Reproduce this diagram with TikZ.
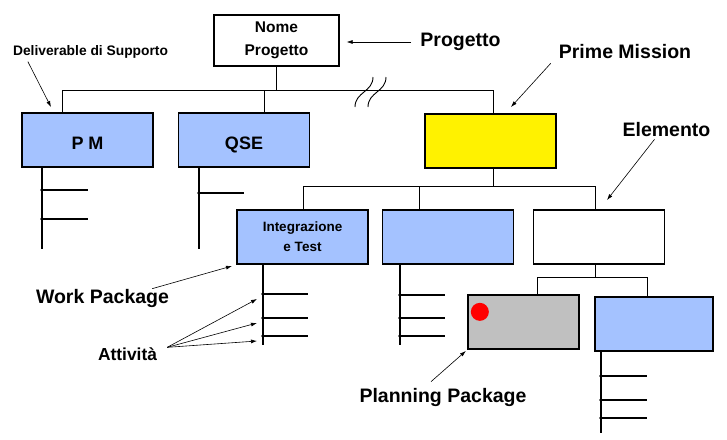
\documentclass[tikz,border=0pt]{standalone}
\usepackage{fontspec}
\setmainfont{Liberation Sans}
\usetikzlibrary{arrows.meta,positioning}
\definecolor{wbsblu}{RGB}{164,194,255}
\definecolor{wbsgrigio}{RGB}{192,192,192}

\begin{document}
\begin{tikzpicture}[x=1pt,y=-1pt,
  box/.style={draw,line width=1.3pt,minimum width=131pt,minimum height=54pt,inner sep=0pt,align=center,font=\bfseries\fontsize{18}{20}\selectfont},
  wp/.style={box,fill=wbsblu},
  wpriga/.style={wp,text height=19pt,text depth=0pt},
  lbl/.style={inner sep=0pt,font=\bfseries\fontsize{19.5}{22}\selectfont},
  conn/.style={line width=0.9pt},
  scala/.style={line width=1.8pt},
  freccia/.style={line width=0.6pt,-{Latex[length=6pt,width=4pt]}}]
  \useasboundingbox (0,0) rectangle (727,439);

  % boxes
  \node[box,minimum width=125pt,minimum height=51pt,font=\bfseries\fontsize{15.5}{23}\selectfont] (nome) at (276.5,40.5) {Nome\\Progetto};
  \node[wpriga] (pm) at (87.5,140) {P M};
  \node[wpriga] (qse) at (244,140) {QSE};
  \node[box,fill=yellow,line width=2.2pt] (prime) at (490.5,141) {};
  \node[wp,font=\bfseries\fontsize{13.5}{20}\selectfont] (integ) at (302.5,237) {Integrazione\\e Test};
  \node[wp,right=13pt of integ] (wp2) {};
  \node[box,right=19pt of wp2] (elem) {};
  \node[box,fill=wbsgrigio,minimum width=111pt] (pp) at (523.5,322) {};
  \node[wp,minimum width=118pt] (wp4) at (654,324) {};
  \fill[red] (pp.north west) ++(12.5,17.5) circle (9pt);

  % tree
  \coordinate (b1) at (62,90);
  \coordinate (b2) at (493,90);
  \coordinate (b3) at (264,90);
  \draw[conn] (nome) -- (nome |- b1);
  \draw[conn] (pm.north -| b1) -- (b1) -- (b2) -- (prime.north -| b2);
  \draw[conn] (b3) -- (b3 |- qse.north);
  \draw[conn] (355,107) .. controls (355,92) and (373,92) .. (373,77);
  \draw[conn] (368,107) .. controls (368,92) and (386,92) .. (386,77);

  \coordinate (c1) at (303,186);
  \coordinate (c2) at (595,186);
  \coordinate (c3) at (419,186);
  \draw[conn] (prime.south -| b2) -- (b2 |- c1);
  \draw[conn] (integ.north -| c1) -- (c1) -- (c2) -- (elem.north -| c2);
  \draw[conn] (c3) -- (c3 |- wp2.north);

  \coordinate (d1) at (537,277);
  \coordinate (d2) at (647,277);
  \draw[conn] (elem.south -| c2) -- (c2 |- d1);
  \draw[conn] (pp.north -| d1) -- (d1) -- (d2) -- (wp4.north -| d2);

  % activities
  \draw[scala] (42,167) -- (42,249);
  \foreach \y in {190,219} {
    \draw[scala] (42,\y) -- ++(46,0);
    \fill (42,\y) circle (1.8pt);
  }
  \draw[scala] (199,167) -- (199,249);
  \draw[scala] (199,193) -- ++(45,0);
  \fill (199,193) circle (1.8pt);
  \draw[scala] (263,264) -- (263,345);
  \foreach \y in {294,318,336} {
    \draw[scala] (263,\y) -- ++(45,0);
    \fill (263,\y) circle (1.8pt);
  }
  \draw[scala] (400,264) -- (400,345);
  \foreach \y in {295,318,336} {
    \draw[scala] (400,\y) -- ++(45,0);
    \fill (400,\y) circle (1.8pt);
  }
  \draw[scala] (601,351) -- (601,433);
  \foreach \y in {376,400,418} {
    \draw[scala] (601,\y) -- ++(46,0);
    \fill (601,\y) circle (1.8pt);
  }

  % labels
  \node[lbl,font=\bfseries\fontsize{13.8}{16}\selectfont] (deliv) at (90.5,52) {Deliverable di Supporto};
  \node[lbl] (lprog) at (460.5,42) {Progetto};
  \node[lbl] (lprime) at (625,52) {Prime Mission};
  \node[lbl] (lelem) at (666.5,130) {Elemento};
  \node[lbl] (lwp) at (102.5,298) {Work Package};
  \node[lbl,font=\bfseries\fontsize{17.4}{20}\selectfont] (latt) at (127.5,354) {Attività};
  \node[lbl] (lpp) at (443,397) {Planning Package};

  \coordinate (tdeliv) at (51,107);
  \coordinate (tprime) at (511,107);
  \coordinate (telem) at (607,200);
  \coordinate (twp) at (232,266);
  \draw[freccia,shorten <=9pt,shorten >=7pt] (lprog.west) -- (lprog.west -| nome.east);
  \draw[freccia] ([xshift=15pt,yshift=-3pt]deliv.south west) -- (tdeliv);
  \draw[freccia] ([xshift=-8pt,yshift=-4pt]lprime.south west) -- (tprime);
  \draw[freccia] ([xshift=-12pt,yshift=-2pt]lelem.south) -- (telem);
  \draw[freccia] ([xshift=-17pt]lwp.north east) -- (twp);
  \foreach \y in {299,323,341}
    \draw[freccia] ([xshift=10pt]latt.north east) -- (257,\y);
  \draw[freccia,shorten >=2pt] ([xshift=-12pt,yshift=6pt]lpp.north) -- (pp.south west);
\end{tikzpicture}
\end{document}
